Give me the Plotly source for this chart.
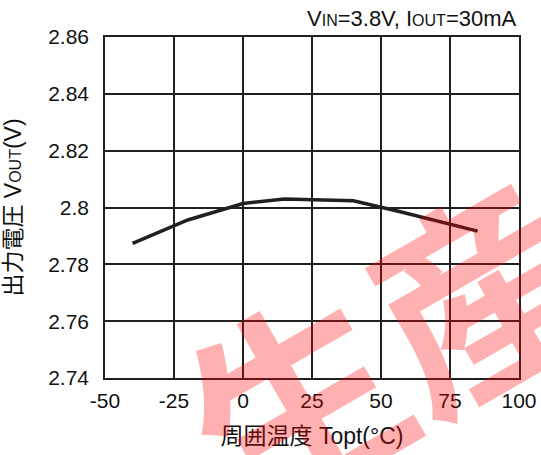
import plotly.graph_objects as go

temps = [-40, -20, 0, 15, 40, 57, 85]
vout = [2.7874, 2.7956, 2.8014, 2.8030, 2.8024, 2.7985, 2.7917]
x_ticks = [-50, -25, 0, 25, 50, 75, 100]
y_ticks = [2.74, 2.76, 2.78, 2.80, 2.82, 2.84, 2.86]
y_tick_labels = ["2.74", "2.76", "2.78", "2.8", "2.82", "2.84", "2.86"]

FONT = "Liberation Sans, Arial, Noto Sans CJK JP, sans-serif"
INK = "#231f20"

fig = go.Figure()
fig.add_trace(go.Scatter(x=temps, y=vout, mode="lines",
                         line=dict(color=INK, width=3.5),
                         showlegend=False, hoverinfo="skip"))

fig.update_layout(
    template="none",
    width=541, height=455,
    margin=dict(l=105, r=22, t=37, b=77, pad=0),
    paper_bgcolor="white", plot_bgcolor="white",
    font=dict(family=FONT, size=21, color="#111"),
    xaxis=dict(range=[-50, 100], tickvals=x_ticks, ticktext=[str(v) for v in x_ticks],
               showgrid=True, gridcolor=INK, gridwidth=1.5,
               showline=True, linecolor=INK, linewidth=1.5, mirror=True,
               ticks="", zeroline=False, automargin=False,
               ticklabelstandoff=3,
               tickfont=dict(family=FONT, size=21),
               title=dict(text="周囲温度 Topt(°C)", standoff=17,
                          font=dict(family=FONT, size=23))),
    yaxis=dict(range=[2.74, 2.86], tickvals=y_ticks, ticktext=y_tick_labels,
               showgrid=True, gridcolor=INK, gridwidth=1.5,
               showline=True, linecolor=INK, linewidth=1.5, mirror=True,
               ticks="", zeroline=False, automargin=False,
               ticklabelstandoff=10,
               tickfont=dict(family=FONT, size=21),
               title=dict(text="出力電圧 V<span style='font-size:16px'>OUT</span>(V)", standoff=21,
                          font=dict(family=FONT, size=23))),
    annotations=[
        dict(text="V<span style='font-size:16px'>IN</span>=3.8V, I<span style='font-size:16px'>OUT</span>=30mA",
             xref="paper", yref="paper", x=1.0, y=1.0, xanchor="right", yanchor="bottom",
             showarrow=False, font=dict(family=FONT, size=22, color="#111"), yshift=4),
        dict(text="<b>生産</b>", xref="paper", yref="paper", x=0.67, y=0.11,
             xanchor="center", yanchor="middle", showarrow=False, textangle=-30,
             font=dict(family="Noto Sans CJK JP", size=210, color="rgba(255,0,0,0.31)")),
    ],
)

fig.write_html("out.html")
